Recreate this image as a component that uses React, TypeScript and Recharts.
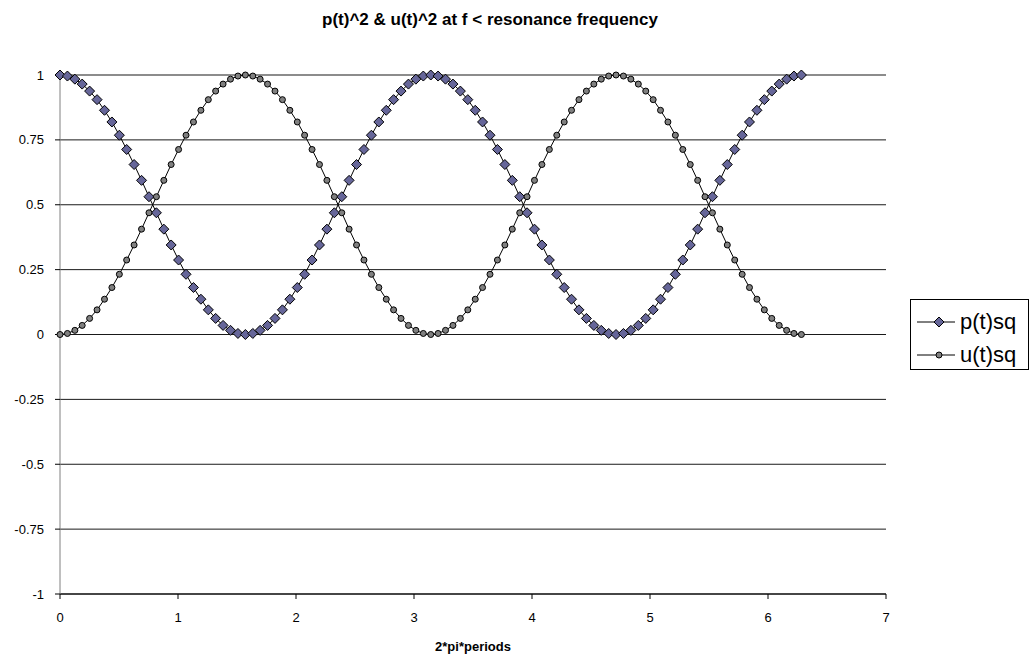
import React from "react";
import { LineChart, Line, XAxis, YAxis, CartesianGrid } from "recharts";

// x = 2*pi*periods
const xs = [
  0, 0.063, 0.126, 0.188, 0.251, 0.314, 0.377, 0.44, 0.503, 0.565,
  0.628, 0.691, 0.754, 0.817, 0.88, 0.942, 1.005, 1.068, 1.131, 1.194,
  1.257, 1.319, 1.382, 1.445, 1.508, 1.571, 1.634, 1.696, 1.759, 1.822,
  1.885, 1.948, 2.011, 2.073, 2.136, 2.199, 2.262, 2.325, 2.388, 2.45,
  2.513, 2.576, 2.639, 2.702, 2.765, 2.827, 2.89, 2.953, 3.016, 3.079,
  3.142, 3.204, 3.267, 3.33, 3.393, 3.456, 3.519, 3.581, 3.644, 3.707,
  3.77, 3.833, 3.896, 3.958, 4.021, 4.084, 4.147, 4.21, 4.273, 4.335,
  4.398, 4.461, 4.524, 4.587, 4.65, 4.712, 4.775, 4.838, 4.901, 4.964,
  5.027, 5.089, 5.152, 5.215, 5.278, 5.341, 5.404, 5.466, 5.529, 5.592,
  5.655, 5.718, 5.781, 5.843, 5.906, 5.969, 6.032, 6.095, 6.158, 6.22,
  6.283,
];

const pSq = [
  1, 0.996, 0.984, 0.965, 0.938, 0.905, 0.864, 0.819, 0.768, 0.713,
  0.655, 0.594, 0.531, 0.469, 0.406, 0.345, 0.287, 0.232, 0.181, 0.136,
  0.095, 0.062, 0.035, 0.016, 0.004, 0, 0.004, 0.016, 0.035, 0.062,
  0.095, 0.136, 0.181, 0.232, 0.287, 0.345, 0.406, 0.469, 0.531, 0.594,
  0.655, 0.713, 0.768, 0.819, 0.864, 0.905, 0.938, 0.965, 0.984, 0.996,
  1, 0.996, 0.984, 0.965, 0.938, 0.905, 0.864, 0.819, 0.768, 0.713,
  0.655, 0.594, 0.531, 0.469, 0.406, 0.345, 0.287, 0.232, 0.181, 0.136,
  0.095, 0.062, 0.035, 0.016, 0.004, 0, 0.004, 0.016, 0.035, 0.062,
  0.095, 0.136, 0.181, 0.232, 0.287, 0.345, 0.406, 0.469, 0.531, 0.594,
  0.655, 0.713, 0.768, 0.819, 0.864, 0.905, 0.938, 0.965, 0.984, 0.996,
  1,
];

const uSq = [
  0, 0.004, 0.016, 0.035, 0.062, 0.095, 0.136, 0.181, 0.232, 0.287,
  0.345, 0.406, 0.469, 0.531, 0.594, 0.655, 0.713, 0.768, 0.819, 0.864,
  0.905, 0.938, 0.965, 0.984, 0.996, 1, 0.996, 0.984, 0.965, 0.938,
  0.905, 0.864, 0.819, 0.768, 0.713, 0.655, 0.594, 0.531, 0.469, 0.406,
  0.345, 0.287, 0.232, 0.181, 0.136, 0.095, 0.062, 0.035, 0.016, 0.004,
  0, 0.004, 0.016, 0.035, 0.062, 0.095, 0.136, 0.181, 0.232, 0.287,
  0.345, 0.406, 0.469, 0.531, 0.594, 0.655, 0.713, 0.768, 0.819, 0.864,
  0.905, 0.938, 0.965, 0.984, 0.996, 1, 0.996, 0.984, 0.965, 0.938,
  0.905, 0.864, 0.819, 0.768, 0.713, 0.655, 0.594, 0.531, 0.469, 0.406,
  0.345, 0.287, 0.232, 0.181, 0.136, 0.095, 0.062, 0.035, 0.016, 0.004,
  0,
];

const xTicks = [0, 1, 2, 3, 4, 5, 6, 7];
const yTicks = [-1, -0.75, -0.5, -0.25, 0, 0.25, 0.5, 0.75, 1];

const data = xs.map((x, i) => ({ x, p: pSq[i], u: uSq[i] }));

const FONT = "'Liberation Sans', Arial, sans-serif";
const DIAMOND_FILL = "#666699";
const CIRCLE_FILL = "#808080";

const Diamond = (props: any) => {
  const { cx, cy, index } = props;
  if (cx == null || cy == null) return <g key={`d${index}`} />;
  const s = 5;
  return (
    <path
      key={`d${index}`}
      d={`M${cx},${cy - s} L${cx + s},${cy} L${cx},${cy + s} L${cx - s},${cy} Z`}
      fill={DIAMOND_FILL}
      stroke="#000"
      strokeWidth={1}
    />
  );
};

function LegendBox() {
  const row = (label: string, marker: React.ReactNode, top: number) => (
    <div style={{ position: "absolute", left: 0, top, height: 24, display: "flex", alignItems: "center" }}>
      <svg width={48} height={24}>
        <line x1={6} y1={12} x2={44} y2={12} stroke="#000" strokeWidth={1} />
        {marker}
      </svg>
      <span style={{ fontSize: 22, fontFamily: FONT, color: "#000", marginLeft: 1 }}>{label}</span>
    </div>
  );
  return (
    <div
      style={{
        position: "absolute",
        left: 910,
        top: 299,
        width: 119,
        height: 71,
        border: "1px solid #000",
        boxSizing: "border-box",
        background: "#fff",
      }}
    >
      {row(
        "p(t)sq",
        <path d="M28,7 L33,12 L28,17 L23,12 Z" fill={DIAMOND_FILL} stroke="#000" strokeWidth={1} />,
        10
      )}
      {row("u(t)sq", <circle cx={28} cy={12} r={3} fill={CIRCLE_FILL} stroke="#000" strokeWidth={1} />, 43)}
    </div>
  );
}

export default function App() {
  return (
    <div style={{ position: "absolute", left: 0, top: 0, width: 1031, height: 656, background: "#fff" }}>
      <div
        style={{
          position: "absolute",
          left: 490,
          top: 20,
          transform: "translate(-50%, -50%)",
          whiteSpace: "nowrap",
          fontFamily: FONT,
          fontWeight: 700,
          fontSize: 17,
          color: "#000",
        }}
      >
        p(t)^2 &amp; u(t)^2 at f &lt; resonance frequency
      </div>

      <LineChart width={1031} height={656} data={data} margin={{ top: 75, right: 145, bottom: 22, left: 0 }}>
        <CartesianGrid horizontal vertical={false} stroke="#000" strokeOpacity={0.9} />
        <XAxis
          dataKey="x"
          type="number"
          domain={[0, 7]}
          ticks={xTicks}
          interval={0}
          height={40}
          axisLine={{ stroke: "#000" }}
          tickLine={{ stroke: "#000" }}
          tickSize={5}
          tickMargin={14}
          tick={{ fontSize: 13, fill: "#000", fontFamily: FONT }}
        />
        <YAxis
          type="number"
          domain={[-1, 1]}
          ticks={yTicks}
          interval={0}
          width={60}
          axisLine={{ stroke: "#808080" }}
          tickLine={{ stroke: "#000" }}
          tickSize={5}
          tickMargin={11}
          tick={{ fontSize: 13, fill: "#000", fontFamily: FONT }}
        />
        <Line
          dataKey="p"
          stroke="#000"
          strokeWidth={1}
          dot={Diamond}
          activeDot={false}
          isAnimationActive={false}
        />
        <Line
          dataKey="u"
          stroke="#000"
          strokeWidth={1}
          dot={{ r: 3, fill: CIRCLE_FILL, stroke: "#000", strokeWidth: 1 }}
          activeDot={false}
          isAnimationActive={false}
        />
      </LineChart>

      <div
        style={{
          position: "absolute",
          left: 473,
          top: 646,
          transform: "translate(-50%, -50%)",
          whiteSpace: "nowrap",
          fontFamily: FONT,
          fontWeight: 700,
          fontSize: 13,
          color: "#000",
        }}
      >
        2*pi*periods
      </div>

      <LegendBox />
    </div>
  );
}
